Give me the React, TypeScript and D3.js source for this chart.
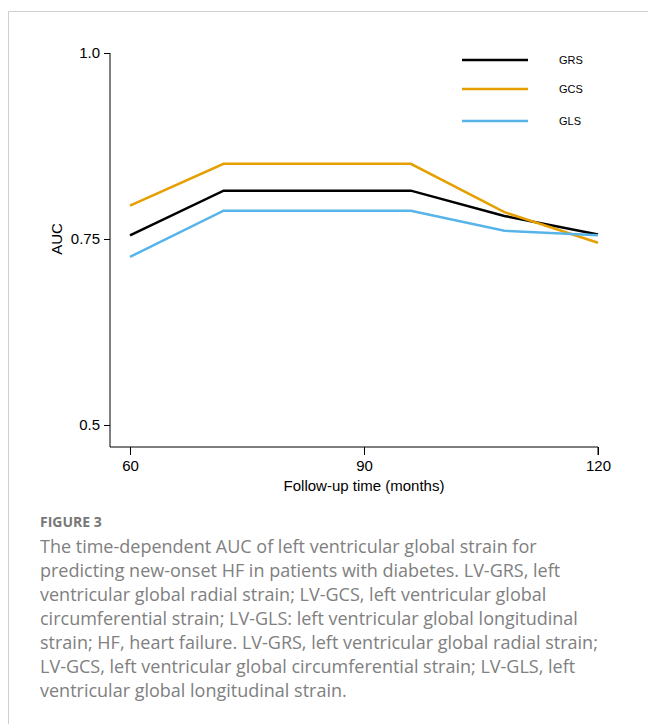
import React, { useEffect, useRef } from 'react';
import * as d3 from 'd3';

const months = [60, 72, 96, 108, 120];
const grs = [0.755, 0.815, 0.815, 0.781, 0.756];
const gcs = [0.795, 0.851, 0.851, 0.786, 0.745];
const gls = [0.726, 0.788, 0.788, 0.761, 0.755];
const seriesNames = ['GRS', 'GCS', 'GLS'];
const seriesColors = ['#000000', '#E69F00', '#56B4E9'];
const yTicks = [0.5, 0.75, 1.0];
const xTicks = [60, 90, 120];

const captionTitle = 'FIGURE 3';
const captionLines = [
  'The time-dependent AUC of left ventricular global strain for',
  'predicting new-onset HF in patients with diabetes. LV-GRS, left',
  'ventricular global radial strain; LV-GCS, left ventricular global',
  'circumferential strain; LV-GLS: left ventricular global longitudinal',
  'strain; HF, heart failure. LV-GRS, left ventricular global radial strain;',
  'LV-GCS, left ventricular global circumferential strain; LV-GLS, left',
  'ventricular global longitudinal strain.',
];

const App = () => {
  const svgRef = useRef<SVGSVGElement>(null);

  useEffect(() => {
    const svg = d3.select(svgRef.current);
    svg.selectAll('*').remove();

    const width = 648;
    const height = 724;

    // card border
    svg.append('path')
      .attr('d', `M8.5,${height} L8.5,11.5 L${width},11.5`)
      .attr('fill', 'none')
      .attr('stroke', '#cfcfcf')
      .attr('stroke-width', 1);

    const x = d3.scaleLinear().domain([60, 120]).range([130, 598]);
    const y = d3.scaleLinear().domain([0.5, 1.0]).range([425, 53]);
    const axisFont = 'Liberation Sans, Arial, sans-serif';

    const g = svg.append('g');

    // y axis
    const yAxis = g.append('g')
      .attr('transform', 'translate(110,0)')
      .call(d3.axisLeft(y).tickValues(yTicks).tickSize(6).tickPadding(4)
        .tickFormat(d => (d === 1 ? '1.0' : String(d))));
    yAxis.select('.domain').attr('d', `M0,${y(1.0)}V447`);
    yAxis.selectAll('text').style('font-size', '15px').style('font-family', axisFont).attr('fill', '#000');

    // x axis
    const xAxis = g.append('g')
      .attr('transform', 'translate(0,447)')
      .call(d3.axisBottom(x).tickValues(xTicks).tickSize(8).tickPadding(5).tickFormat(d3.format('d')));
    xAxis.select('.domain').attr('d', `M110,0H${x(120)}V8`);
    xAxis.selectAll('text').style('font-size', '15px').style('font-family', axisFont).attr('fill', '#000');

    g.append('text')
      .attr('x', x(90))
      .attr('y', 491)
      .attr('text-anchor', 'middle')
      .style('font-size', '15px')
      .style('font-family', axisFont)
      .text('Follow-up time (months)');

    g.append('text')
      .attr('transform', `translate(62,${y(0.75)}) rotate(-90)`)
      .attr('text-anchor', 'middle')
      .style('font-size', '15px')
      .style('font-family', axisFont)
      .text('AUC');

    const line = d3.line<number>()
      .x((_, i) => x(months[i]))
      .y(d => y(d));

    [grs, gcs, gls].forEach((vals, i) => {
      g.append('path')
        .datum(vals)
        .attr('d', line)
        .attr('fill', 'none')
        .attr('stroke', seriesColors[i])
        .attr('stroke-width', 2.5);
    });

    // legend
    const legendY = [60, 89, 121];
    seriesNames.forEach((name, i) => {
      g.append('line')
        .attr('x1', 462).attr('x2', 528)
        .attr('y1', legendY[i]).attr('y2', legendY[i])
        .attr('stroke', seriesColors[i])
        .attr('stroke-width', 2.5);
      g.append('text')
        .attr('x', 559)
        .attr('y', legendY[i] + 4)
        .style('font-size', '11px')
        .style('font-family', axisFont)
        .text(name);
    });

    // caption
    svg.append('text')
      .attr('x', 40)
      .attr('y', 527)
      .attr('fill', '#777')
      .style('font-size', '14px')
      .style('font-family', 'Open Sans, sans-serif')
      .style('font-weight', 'bold')
      .text(captionTitle);

    captionLines.forEach((t, i) => {
      svg.append('text')
        .attr('x', 40)
        .attr('y', 553 + i * 24)
        .attr('fill', '#808080')
        .style('font-size', '18px')
        .style('font-family', 'Open Sans, sans-serif')
        .text(t);
    });
  }, []);

  return (
    <svg
      ref={svgRef}
      width={648}
      height={724}
      style={{ position: 'absolute', left: 0, top: 0, background: '#fff' }}
    />
  );
};

export default App;
